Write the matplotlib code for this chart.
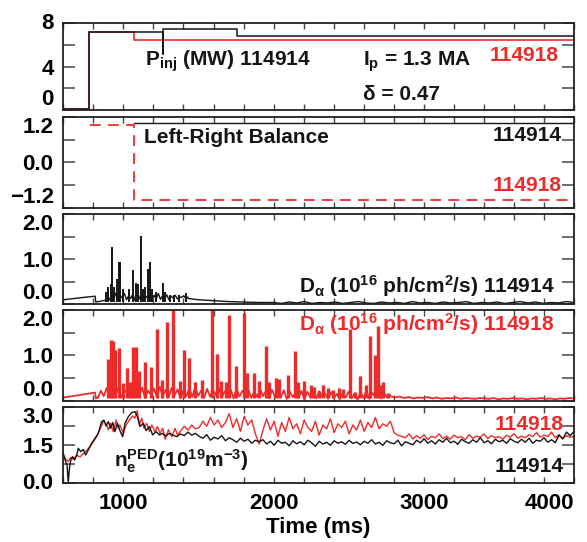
import matplotlib
matplotlib.use('Agg')
import matplotlib.pyplot as plt
import numpy as np
from matplotlib import font_manager
from matplotlib.ticker import MultipleLocator

# ---- data ----
# P_inj (MW), step traces
pinj_t_914 = [600, 770, 1262, 1266, 1757, 4000]
pinj_v_914 = [0.05, 7.2, 5.2, 7.45, 6.85, 6.85]
pinj_t_918 = [600, 770, 1071, 4000]
pinj_v_918 = [0.05, 7.2, 6.5, 6.5]

# Left-right balance
lr_t_914 = [1071, 4000]
lr_v_914 = [1.03, 1.03]
lr_t_918 = [777, 1071, 1071, 4000]
lr_v_918 = [1.0, 1.0, -1.0, -1.0]

# D-alpha 114914: baseline pieces and ELM spikes
da914_pre_t = [600, 700, 812, 816, 850, 880]
da914_pre_v = [0.10, 0.14, 0.18, 0.05, 0.07, 0.09]
da914_elm_v = [0.08, 0.18, 0.10, 0.22, 0.12, 0.25, 0.09, 0.20, 0.14, 0.24,
               0.10, 0.19, 0.13, 0.23, 0.08, 0.21, 0.12, 0.26, 0.10, 0.18,
               0.14, 0.22, 0.09, 0.20, 0.12, 0.24, 0.11, 0.19, 0.13, 0.21,
               0.10, 0.18, 0.14, 0.20, 0.12, 0.17, 0.15, 0.19, 0.13, 0.16]
da914_post_t = [1430, 1500, 1600, 1700, 1800, 1900, 2000]
da914_post_v = [0.13, 0.10, 0.08, 0.06, 0.05, 0.04, 0.04]
da914_tail_v = [0.04, 0.02, 0.05, 0.03, 0.06, 0.02, 0.04, 0.03, 0.05, 0.02,
                0.04, 0.06, 0.03, 0.02, 0.05, 0.03, 0.04, 0.02, 0.06, 0.03,
                0.04, 0.02, 0.05, 0.03, 0.04, 0.06, 0.02, 0.04, 0.03, 0.05,
                0.02, 0.04, 0.06, 0.03, 0.05, 0.02, 0.04, 0.03, 0.06, 0.04]
da914_spk_t = [884, 900, 917, 927, 940, 955, 969, 979, 995, 1040, 1064, 1085,
               1100, 1116, 1133, 1145, 1166, 1176, 1193, 1220, 1261, 1280,
               1313, 1338, 1370, 1420]
da914_spk_h = [0.27, 0.38, 0.44, 1.28, 0.38, 0.57, 0.93, 0.93, 0.34, 0.34, 0.75,
               0.47, 0.44, 1.51, 0.34, 0.38, 0.79, 0.93, 0.34, 0.27, 0.47, 0.27,
               0.21, 0.21, 0.21, 0.24]

# D-alpha 114918
da918_pre_t = [600, 700, 812, 816, 830]
da918_pre_v = [0.07, 0.12, 0.18, 0.05, 0.08]
da918_elm_v = [0.06, 0.22, 0.10, 0.28, 0.08, 0.25, 0.12, 0.30, 0.07, 0.24,
               0.15, 0.32, 0.09, 0.26, 0.11, 0.29, 0.06, 0.22, 0.13, 0.27,
               0.08, 0.31, 0.10, 0.24, 0.07, 0.28, 0.12, 0.25, 0.05, 0.23,
               0.10, 0.27, 0.08, 0.30, 0.11, 0.22, 0.06, 0.26, 0.09, 0.24,
               0.12, 0.28, 0.07, 0.21, 0.10, 0.25, 0.05, 0.27, 0.09, 0.22,
               0.11, 0.24, 0.06, 0.20, 0.08, 0.26, 0.10, 0.22, 0.05, 0.24,
               0.09, 0.19, 0.07, 0.23, 0.04, 0.21, 0.08, 0.18, 0.06, 0.22,
               0.03, 0.20, 0.07, 0.17, 0.05, 0.21, 0.08, 0.16, 0.04, 0.19,
               0.06, 0.15, 0.03, 0.18, 0.07, 0.20, 0.05, 0.16, 0.02, 0.19,
               0.06, 0.22, 0.04, 0.17, 0.08, 0.21, 0.05, 0.18, 0.07, 0.12]
da918_tail_v = [0.10, 0.07, 0.09, 0.06, 0.08, 0.05, 0.07, 0.06, 0.08, 0.05,
                0.07, 0.04, 0.06, 0.05, 0.07, 0.04, 0.06, 0.05, 0.04, 0.06,
                0.05, 0.04, 0.06, 0.03, 0.05, 0.04, 0.06, 0.04, 0.05, 0.03,
                0.05, 0.04, 0.06, 0.04, 0.05, 0.03, 0.05, 0.04, 0.06, 0.05]
da918_spk_t = [897, 919, 932, 944, 971, 1000, 1026, 1046, 1066, 1081, 1106, 1146,
               1181, 1226, 1256, 1291, 1331, 1380, 1405, 1440, 1475, 1525, 1590,
               1620, 1650, 1682, 1705, 1752, 1800, 1824, 1867, 1900, 1952, 1970,
               2014, 2037, 2099, 2141, 2161, 2203, 2248, 2268, 2303, 2328, 2361,
               2393, 2435, 2460, 2510, 2542, 2578, 2618, 2642, 2677, 2697, 2712,
               2727, 2760]
da918_spk_h = [0.91, 1.34, 1.31, 1.11, 1.17, 0.39, 0.72, 0.42, 1.19, 1.19, 0.66,
               0.85, 0.74, 1.58, 0.46, 1.73, 2.3, 0.44, 1.11, 0.95, 0.41, 0.46,
               2.3, 1.04, 0.44, 0.42, 1.90, 0.76, 1.94, 0.60, 0.60, 0.44, 1.21,
               0.41, 0.51, 0.48, 0.56, 1.10, 0.42, 0.44, 0.35, 0.31, 0.22, 0.34,
               0.28, 0.24, 0.28, 0.26, 1.58, 0.19, 0.54, 0.34, 1.42, 1.00, 1.64,
               0.35, 0.42, 0.18]

# pedestal density (1e19 m^-3)
ne914_early_t = [600, 616, 625, 633, 641, 650, 662, 675, 689, 700, 716, 733, 749,
                 767, 789, 811, 833, 855, 871, 884, 900, 915, 929, 944, 960, 977,
                 995, 1011, 1033, 1055, 1077, 1093, 1111, 1133, 1151, 1173, 1195,
                 1217, 1240, 1262, 1284, 1306, 1328, 1355]
ne914_early_v = [1.18, 0.85, 0.72, 0.03, 0.60, 0.92, 1.05, 0.92, 1.10, 1.38, 1.25,
                 1.34, 1.12, 1.32, 1.58, 1.78, 1.97, 2.43, 2.50, 2.26, 2.43, 2.17,
                 2.40, 2.04, 2.37, 2.08, 1.84, 2.37, 2.63, 2.79, 2.83, 2.63, 2.24,
                 2.37, 2.08, 2.24, 1.91, 2.04, 1.91, 1.97, 1.87, 1.97, 1.91, 1.84]
ne914_late_v = [1.95, 1.88, 2.02, 1.90, 1.97,
                1.85, 1.78, 1.92, 1.70, 1.82, 1.75, 1.88, 1.68, 1.80, 1.72, 1.62,
                1.78, 1.66, 1.74, 1.58, 1.70, 1.64,
                1.72, 1.55, 1.66, 1.50, 1.70, 1.58, 1.62, 1.48, 1.68, 1.56, 1.64,
                1.52, 1.70, 1.60, 1.46, 1.66, 1.55, 1.62, 1.50, 1.68, 1.58, 1.64,
                1.54, 1.70, 1.57, 1.63, 1.52, 1.66, 1.58, 1.72, 1.55, 1.62, 1.50,
                1.68, 1.60, 1.56, 1.70, 1.48, 1.64, 1.58,
                1.52, 1.70, 1.60, 1.76, 1.58, 1.68, 1.55, 1.72, 1.62, 1.78, 1.60,
                1.66, 1.54, 1.74, 1.64, 1.58, 1.72, 1.62, 1.80, 1.60, 1.68, 1.56,
                1.74, 1.64, 1.70, 1.58, 1.76, 1.66, 1.60, 1.74, 1.62, 1.78, 1.58,
                1.70, 1.66, 1.80, 1.62, 1.72, 1.60, 1.90, 1.75, 2.02, 1.88, 2.05]
ne918_early_t = [600, 616, 633, 649, 667, 689, 711, 733, 755, 778, 800, 822, 844,
                 866, 884, 900, 915, 933, 951, 966, 977, 1000, 1018, 1040, 1062,
                 1077, 1093, 1106, 1122, 1137, 1155, 1173, 1189, 1211, 1226, 1244,
                 1262, 1277, 1300, 1322, 1344, 1360]
ne918_early_v = [1.08, 0.95, 0.86, 1.02, 0.95, 1.11, 1.04, 1.17, 1.30, 1.45, 1.64,
                 1.84, 2.13, 2.43, 2.37, 2.11, 2.37, 2.04, 2.50, 2.17, 2.30, 1.97,
                 2.30, 2.50, 2.66, 2.57, 2.87, 2.30, 2.57, 2.17, 2.37, 2.04, 2.30,
                 2.04, 2.24, 1.97, 2.17, 1.74, 2.11, 1.84, 2.17, 1.91]
ne918_late_v = [2.05, 2.25, 2.10, 2.30, 2.15, 2.20,
                2.45, 2.25, 2.60, 2.30, 2.50, 2.20, 2.40,
                2.75, 2.20, 2.55, 2.05, 2.65, 2.30, 2.50, 1.95,
                1.55, 2.10,
                2.55, 2.10, 2.45, 1.85, 2.40, 2.05, 2.60, 2.15, 2.35, 1.95, 2.50,
                2.20, 2.05, 2.45, 1.90, 2.30, 2.15, 2.55, 2.00, 2.35, 2.20, 2.45,
                1.95, 2.30, 2.10, 2.50, 2.05, 2.40, 2.20, 2.60, 2.15, 2.35, 2.25,
                2.45,
                2.00, 1.90, 1.85,
                1.80, 1.95, 1.75, 1.88, 1.78, 1.92, 1.72, 1.85, 1.80, 1.95, 1.76,
                1.86, 1.74, 1.90, 1.80, 1.84, 1.72, 1.92, 1.78, 1.86, 1.82, 1.95,
                1.76, 1.88, 1.80, 1.84, 1.74, 1.90, 1.82, 1.96, 1.78, 1.86, 1.80,
                1.92, 1.84, 2.00, 1.82, 1.90, 1.85, 2.02, 1.80, 1.92, 1.76, 1.88,
                1.82, 1.85]
time_ticks = [1000, 2000, 3000, 4000]

RED = '#ee2b2b'
BLK = '#151515'

# ---- fonts ----
names = {f.name for f in font_manager.fontManager.ttflist}
fam = 'Liberation Sans Narrow' if 'Liberation Sans Narrow' in names else 'Liberation Sans'
plt.rcParams['font.family'] = [fam, 'DejaVu Sans']
plt.rcParams['font.weight'] = 'bold'
plt.rcParams['mathtext.fontset'] = 'custom'
plt.rcParams['mathtext.rm'] = fam + ':bold'
plt.rcParams['mathtext.it'] = fam + ':bold'
plt.rcParams['mathtext.bf'] = fam + ':bold'
plt.rcParams['axes.unicode_minus'] = True

W, H = 587, 542
L, R = 63.3, 574
fig = plt.figure(figsize=(W / 100, H / 100), dpi=100)


def panel(top, bottom):
    ax = fig.add_axes([L / W, 1 - bottom / H, (R - L) / W, (bottom - top) / H])
    ax.set_xlim(600, 4000)
    ax.set_xticks(time_ticks)
    ax.xaxis.set_minor_locator(MultipleLocator(200))
    ax.tick_params(axis='x', which='both', direction='in', top=True, bottom=True,
                   length=4, width=1, color='#444444', labelbottom=False)
    ax.tick_params(axis='y', which='both', direction='in', left=True, right=True,
                   length=8.5, width=1.2, color='#555555', labelsize=16, pad=7)
    for s in ax.spines.values():
        s.set_linewidth(1.3)
        s.set_color('#222222')
    return ax


def set_yticks(ax, ticks, labels, top_va='top', bot_va='bottom'):
    ax.set_yticks(ticks)
    ax.set_yticklabels(labels)
    lbls = ax.get_yticklabels()
    lbls[0].set_va(bot_va)
    lbls[-1].set_va(top_va)


tkw = dict(fontsize=15, fontweight='bold')

# --- panel 1: injected power ---
ax1 = panel(23.3, 110)
ax1.plot(pinj_t_918, pinj_v_918, drawstyle='steps-post', color=RED, lw=1.2)
ax1.plot(pinj_t_914, pinj_v_914, drawstyle='steps-post', color=BLK, lw=1.1)
ax1.set_ylim(0, 8)
set_yticks(ax1, [0, 2, 4, 6, 8], ['0', '', '4', '', '8'], top_va='center')
ax1.text(1144, 4.1, r'P$_{inj}$ (MW) 114914', color=BLK, va='baseline', **tkw)
ax1.text(2594, 4.1, r'I$_{p}$ = 1.3 MA', color=BLK, va='baseline', **tkw)
ax1.text(2594, 0.92, 'δ = 0.47', color=BLK, va='baseline', **tkw)
ax1.text(3897, 4.52, '114918', color=RED, ha='right', va='baseline', **tkw)

# --- panel 2: left-right balance ---
ax2 = panel(117, 207.7)
ax2.plot(lr_t_914, lr_v_914, color=BLK, lw=1.0)
ax2.plot(lr_t_918, lr_v_918, color=RED, lw=1.3, dashes=(6, 4))
ax2.set_ylim(-1.2, 1.2)
set_yticks(ax2, [-1.2, -0.6, 0, 0.6, 1.2], ['−1.2', '', '0.0', '', '1.2'])
ax2.text(1139, 0.51, 'Left-Right Balance', color=BLK, va='baseline', **tkw)
ax2.text(3920, 0.56, '114914', color=BLK, ha='right', va='baseline', **tkw)
ax2.text(3920, -0.76, '114918', color=RED, ha='right', va='baseline', **tkw)

# --- panel 3: D-alpha 114914 ---
ax3 = panel(214, 304.3)
t_elm = np.linspace(880, 1430, len(da914_elm_v))
t_tail = np.linspace(2000, 4000, len(da914_tail_v))
ax3.plot(da914_pre_t, da914_pre_v, color=BLK, lw=1.0)
ax3.plot(t_elm, da914_elm_v, color=BLK, lw=1.0)
ax3.plot(da914_post_t, da914_post_v, color=BLK, lw=1.0)
ax3.plot(t_tail, da914_tail_v, color=BLK, lw=1.0)
ax3.vlines(da914_spk_t, 0.05, da914_spk_h, color=BLK, lw=1.4)
ax3.set_ylim(0, 2)
set_yticks(ax3, [0, 0.5, 1, 1.5, 2], ['0.0', '', '1.0', '', '2.0'])
ax3.text(3870, 0.26, r'D$_{\alpha}$ (10$^{16}$ ph/cm$^{2}$/s) 114914', color=BLK,
         ha='right', va='baseline', **tkw)

# --- panel 4: D-alpha 114918 ---
ax4 = panel(310, 400.7)
t_elm = np.linspace(830, 2775, len(da918_elm_v))
t_tail = np.linspace(2775, 4000, len(da918_tail_v))
ax4.plot(da918_pre_t, da918_pre_v, color=RED, lw=1.3)
ax4.plot(t_elm, da918_elm_v, color=RED, lw=1.3)
ax4.plot(t_tail, da918_tail_v, color=RED, lw=1.3)
ax4.vlines(da918_spk_t, 0.05, da918_spk_h, color=RED, lw=2.4)
ax4.set_ylim(0, 2)
set_yticks(ax4, [0, 0.5, 1, 1.5, 2], ['0.0', '', '1.0', '', '2.0'])
ax4.text(3865, 1.54, r'D$_{\alpha}$ (10$^{16}$ ph/cm$^{2}$/s) 114918', color=RED,
         ha='right', va='baseline', **tkw)

# --- panel 5: pedestal density ---
ax5 = panel(407.3, 483.3)
t914 = ne914_early_t + list(np.linspace(1380, 4000, len(ne914_late_v)))
t918 = ne918_early_t + list(np.linspace(1380, 4000, len(ne918_late_v)))
ax5.plot(t918, ne918_early_v + ne918_late_v, color=RED, lw=1.0)
ax5.plot(t914, ne914_early_v + ne914_late_v, color=BLK, lw=1.0)
ax5.set_ylim(0, 3)
set_yticks(ax5, [0, 0.75, 1.5, 2.25, 3], ['0.0', '', '1.5', '', '3.0'], bot_va='center')
ax5.text(939, 0.64, r'n$_{e}^{PED}$(10$^{19}$m$^{-3}$)', color=BLK, va='baseline', **tkw)
ax5.text(3933, 2.09, '114918', color=RED, ha='right', va='baseline', **tkw)
ax5.text(3933, 0.45, '114914', color=BLK, ha='right', va='baseline', **tkw)
ax5.tick_params(axis='x', labelbottom=True, labelsize=16, pad=7)
ax5.set_xlabel('Time (ms)', fontsize=16, fontweight='bold', labelpad=2)
ax5.get_xticklabels()[-1].set_ha('right')

fig.savefig('out.png', dpi=100)
